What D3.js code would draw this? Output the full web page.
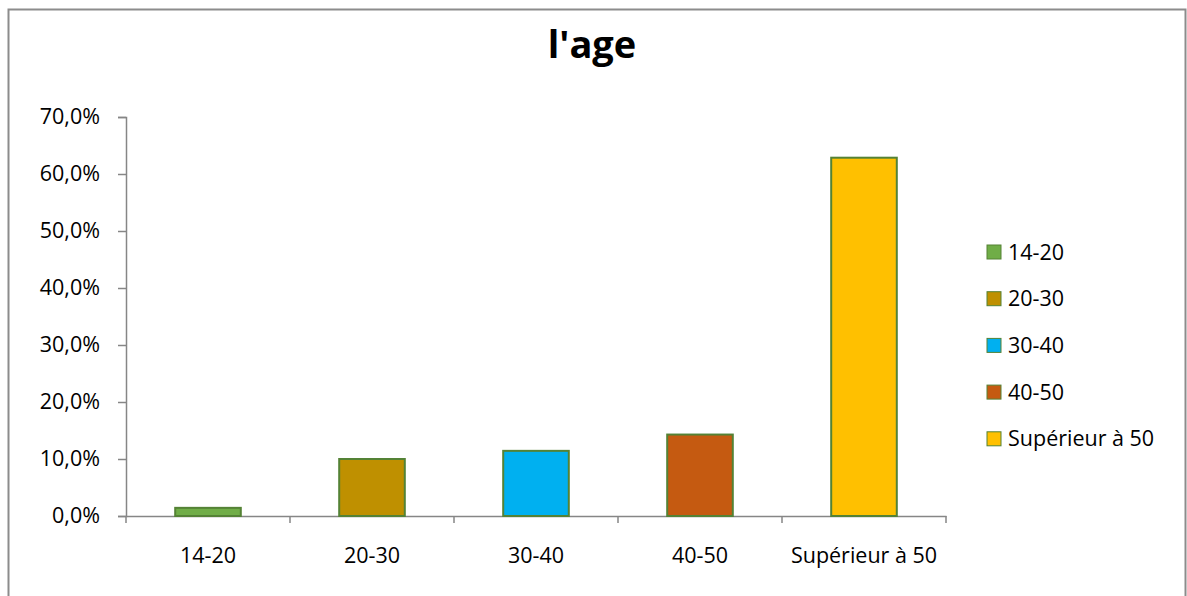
<!DOCTYPE html>
<html>
<head>
<meta charset="utf-8">
<script src="https://cdn.jsdelivr.net/npm/d3@7"></script>
<style>
  html, body { margin: 0; padding: 0; background: #fff; }
  svg { display: block; }
  text { font-family: "Open Sans", "Noto Sans", sans-serif; fill: #000; }
</style>
</head>
<body>
<svg id="chart" width="1187" height="596"></svg>
<script>
// Age groups and their share of respondents
const categories = ["14-20", "20-30", "30-40", "40-50", "Supérieur à 50"];
const shares = [0.0143, 0.1, 0.1143, 0.1429, 0.6286];
const barColors = ["#70ad47", "#bf9000", "#00b0f0", "#c55a11", "#ffc000"];
const yTicks = [0, 0.1, 0.2, 0.3, 0.4, 0.5, 0.6, 0.7];
const title = "l'age";

const svg = d3.select("#chart");
const plot = { left: 126, right: 946, top: 117, bottom: 516 };
const axisColor = "#868686";
const barStroke = "#548235";
const labelSize = "21.5px";

// chart area frame
svg.append("rect")
  .attr("x", 8.5).attr("y", 9.5)
  .attr("width", 1177).attr("height", 640)
  .attr("fill", "#fff")
  .attr("stroke", "#8c8c8c").attr("stroke-width", 2);

// title
svg.append("text")
  .attr("x", 592).attr("y", 58)
  .attr("text-anchor", "middle")
  .style("font-size", "38px").style("font-weight", "700")
  .text(title);

const x = d3.scaleBand().domain(categories).range([plot.left, plot.right]).padding(0);
const y = d3.scaleLinear().domain([0, 0.7]).range([plot.bottom, plot.top]);

const fmt = v => d3.format(".1f")(v * 100).replace(".", ",") + "%";

// y axis
const yAxis = svg.append("g")
  .attr("transform", `translate(${plot.left},0)`)
  .call(d3.axisLeft(y).tickValues(yTicks).tickFormat(fmt).tickSize(8).tickPadding(18));
yAxis.select(".domain").attr("stroke", axisColor).attr("stroke-width", 1.5);
yAxis.selectAll(".tick line").attr("stroke", axisColor).attr("stroke-width", 1.5);
yAxis.selectAll(".tick text").style("font-size", labelSize).attr("fill", "#000");

// x axis: ticks at category boundaries
const xAxis = svg.append("g")
  .attr("transform", `translate(0,${plot.bottom})`)
  .call(d3.axisBottom(x).tickSize(0).tickPadding(32));
xAxis.select(".domain").attr("stroke", axisColor).attr("stroke-width", 1.5);
xAxis.selectAll(".tick text").style("font-size", labelSize).attr("fill", "#000");
const boundaries = categories.map(c => x(c)).concat([x(categories[categories.length - 1]) + x.bandwidth()]);
xAxis.selectAll("line.boundary")
  .data(boundaries)
  .join("line")
  .attr("class", "boundary")
  .attr("x1", d => d).attr("x2", d => d)
  .attr("y1", 0).attr("y2", 7)
  .attr("stroke", axisColor).attr("stroke-width", 1.5);

// bars
const barW = x.bandwidth() * 0.4;
svg.append("g").selectAll("rect")
  .data(categories)
  .join("rect")
  .attr("x", d => x(d) + (x.bandwidth() - barW) / 2)
  .attr("y", (d, i) => y(shares[i]))
  .attr("width", barW)
  .attr("height", (d, i) => y(0) - y(shares[i]))
  .attr("fill", (d, i) => barColors[i])
  .attr("stroke", barStroke).attr("stroke-width", 2);

// legend
const legend = svg.append("g").attr("transform", "translate(987,252)");
const rowH = 46.7;
const item = legend.selectAll("g")
  .data(categories)
  .join("g")
  .attr("transform", (d, i) => `translate(0,${i * rowH})`);
item.append("rect")
  .attr("x", 0).attr("y", -7)
  .attr("width", 14).attr("height", 14)
  .attr("fill", (d, i) => barColors[i])
  .attr("stroke", barStroke).attr("stroke-width", 1);
item.append("text")
  .attr("x", 21).attr("y", 0).attr("dy", "0.35em")
  .style("font-size", labelSize)
  .text(d => d);
</script>
</body>
</html>
